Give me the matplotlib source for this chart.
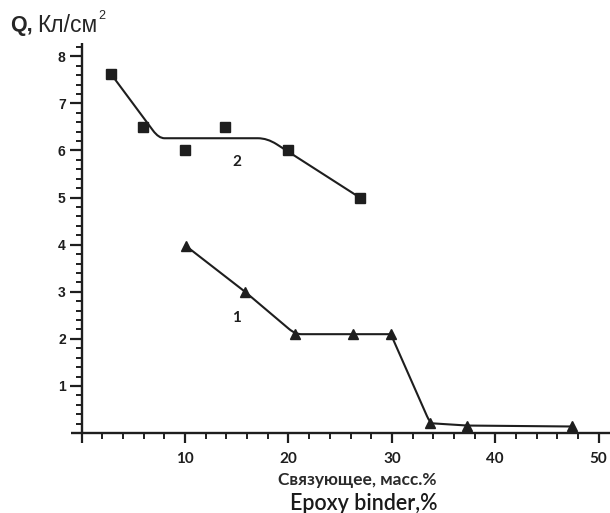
import numpy as np
import matplotlib
matplotlib.use("Agg")
import matplotlib.pyplot as plt
from matplotlib.path import Path
from matplotlib.patches import PathPatch
from matplotlib.ticker import MultipleLocator, FixedLocator
from matplotlib.transforms import offset_copy

# Series 1 (triangles) and series 2 (squares): binder content, wt.% vs Q, C/cm^2
binder_1 = [10.1, 15.8, 20.65, 26.2, 29.9, 33.7, 37.3, 47.4]
charge_1 = [3.97, 3.0, 2.1, 2.1, 2.1, 0.21, 0.16, 0.14]

binder_2 = [2.85, 5.9, 10.0, 13.9, 20.0, 26.9]
charge_2 = [7.62, 6.49, 6.0, 6.49, 6.0, 5.0]

# Trend line for series 2 (corner knots, drawn with rounded corners)
trend2_x = [2.85, 7.45, 17.95, 26.9]
trend2_y = [7.62, 6.26, 6.26, 5.0]

x_ticks = [0, 10, 20, 30, 40, 50]
x_tick_labels = ["", "10", "20", "30", "40", "50"]
y_ticks = [1, 2, 3, 4, 5, 6, 7, 8]

INK = "#1e1e1e"
TICK_FONT = ["Lato", "DejaVu Sans"]
TEXT_FONT = ["Liberation Sans", "DejaVu Sans"]

fig = plt.figure(figsize=(6.10, 5.13), dpi=100)
ax = fig.add_axes([0.117, 0.142, 0.883, 0.774])
ax.set_xlim(-1.0, 51.1)
ax.set_ylim(-0.15, 8.28)


def rounded_path(xs, ys, r):
    """Polyline through the knots; each inner corner is rounded by a quadratic
    Bezier that starts r[i] x-units before and ends r[i] x-units after it."""
    pts = np.column_stack([xs, ys]).astype(float)
    verts = [pts[0]]
    codes = [Path.MOVETO]
    for i in range(1, len(pts) - 1):
        p0, p1, p2 = pts[i - 1], pts[i], pts[i + 1]
        ri = r[i - 1]
        a = p1 + (p0 - p1) * min(0.45, ri / abs(p1[0] - p0[0]))
        b = p1 + (p2 - p1) * min(0.45, ri / abs(p2[0] - p1[0]))
        verts += [a, p1, b]
        codes += [Path.LINETO, Path.CURVE3, Path.CURVE3]
    verts.append(pts[-1])
    codes.append(Path.LINETO)
    return Path(verts, codes)


ax.add_patch(PathPatch(rounded_path(trend2_x, trend2_y, [0.55, 0.9]),
                       fill=False, edgecolor=INK, lw=1.5, zorder=2,
                       capstyle="round", joinstyle="round"))
ax.plot(binder_2, charge_2, ls="none", marker="s", ms=6.8, color=INK, zorder=3)

ax.add_patch(PathPatch(rounded_path(binder_1, charge_1,
                                    [0.1, 0.6, 0.1, 0.15, 0.3, 0.3]),
                       fill=False, edgecolor=INK, lw=1.5, zorder=2,
                       capstyle="round", joinstyle="round"))
ax.plot(binder_1, charge_1, ls="none", marker="^", ms=7.2, color=INK, zorder=3)

ax.text(15.0, 5.75, "2", fontsize=11, fontweight="bold", color=INK,
        ha="center", va="center", family=TICK_FONT)
ax.text(15.0, 2.44, "1", fontsize=11, fontweight="bold", color=INK,
        ha="center", va="center", family=TICK_FONT)

# Axes drawn through the origin
for s in ("top", "right"):
    ax.spines[s].set_visible(False)
ax.spines["left"].set_position(("data", 0))
ax.spines["bottom"].set_position(("data", 0))
ax.spines["left"].set_bounds(0, 8.28)
ax.spines["bottom"].set_bounds(-1.0, 51.1)
for s in ("left", "bottom"):
    ax.spines[s].set_linewidth(1.7)
    ax.spines[s].set_color(INK)
    ax.spines[s].set_capstyle("butt")

ax.xaxis.set_major_locator(FixedLocator(x_ticks))
ax.set_xticklabels(x_tick_labels)
ax.xaxis.set_minor_locator(MultipleLocator(2))
ax.yaxis.set_major_locator(FixedLocator(y_ticks))
ax.yaxis.set_minor_locator(MultipleLocator(0.2))

ax.tick_params(axis="x", which="major", direction="out", length=7.5, width=1.6,
               color=INK, labelsize=11, pad=6)
ax.tick_params(axis="x", which="minor", direction="out", length=4.5, width=1.4, color=INK)
ax.tick_params(axis="y", which="major", direction="out", length=8.5, width=1.6,
               color=INK, labelsize=10, pad=3)
ax.tick_params(axis="y", which="minor", direction="out", length=4.5, width=1.4, color=INK)
for lab in ax.get_xticklabels():
    lab.set_fontweight("bold")
    lab.set_family(TICK_FONT)
    lab.set_color(INK)
for lab in ax.get_yticklabels():
    lab.set_fontweight("bold")
    lab.set_family(TEXT_FONT)
    lab.set_color(INK)

# Y-axis title with superscript unit exponent placed after the unit text
fig.text(0.016, 0.951, "Q,", fontsize=15.5, fontweight="bold", color="#262626",
         family=TEXT_FONT, ha="left", va="center")
unit = fig.text(0.061, 0.951, "Кл/см", fontsize=16.5, color="#262626",
                family=TEXT_FONT, ha="left", va="center")
fig.canvas.draw()
bb = unit.get_window_extent()
fig.text(bb.x1 + 1, bb.y1 - 2, "2", fontsize=9, color="#262626",
         family=TEXT_FONT, ha="left", va="center", transform=None)

fig.text(0.586, 0.064, "Связующее, масс.%", fontsize=12.5, fontweight="bold",
         color="#2a2a2a", family=TICK_FONT, ha="center", va="center")
fig.text(0.596, 0.019, "Epoxy binder,%", fontsize=15.5, fontweight="semibold",
         color="#1a1a1a", family=TICK_FONT, ha="center", va="center")

fig.savefig("out.png", dpi=100, facecolor="white")
